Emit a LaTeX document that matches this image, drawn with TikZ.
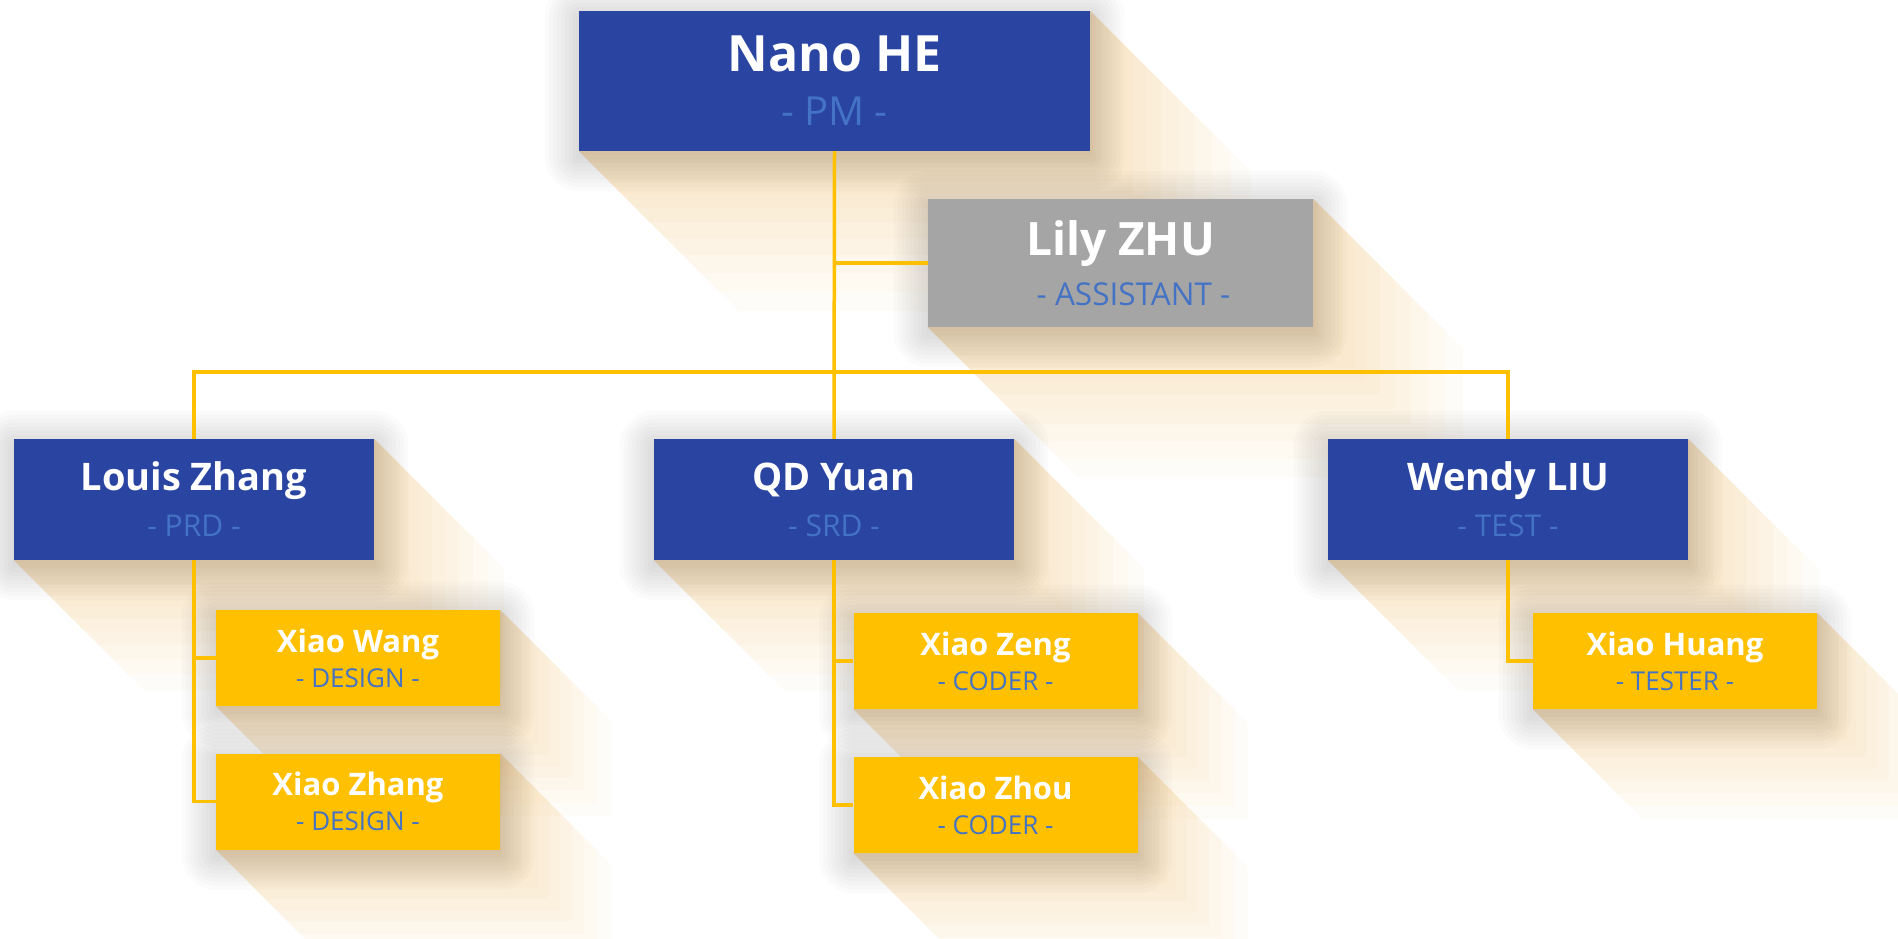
\documentclass[tikz,border=0pt]{standalone}
\usepackage{fontspec}
\setmainfont{Open Sans}
\usetikzlibrary{calc}

\definecolor{boxblue}{HTML}{2A44A1}
\definecolor{boxgray}{HTML}{A5A5A5}
\definecolor{boxyellow}{HTML}{FFC000}
\definecolor{rolecol}{HTML}{4472C4}
\definecolor{linkcol}{HTML}{FFC000}
\definecolor{shadowcol}{RGB}{238,182,92}

\pgfdeclarelayer{bg}
\pgfsetlayers{bg,main}

\newcommand{\who}[2]{#1\\{\mdseries\rolefont\color{rolecol}#2}}
\newcommand{\longshadow}[2]{%
  \foreach \k in {1,...,12}{
    \pgfmathsetmacro{\s}{#2*(\k/12)^1.5}
    \fill[shadowcol, opacity=0.045] (#1.south west) -- ++(\s,\s) -- ($(#1.south east)+(\s,\s)$)
      -- ($(#1.north east)+(\s,\s)$) -- (#1.north east) -- (#1.south east) -- cycle;}}
\newcommand{\glow}[1]{%
  \foreach \r in {2,6,...,34}
    \fill[black, opacity=0.014, rounded corners=\r pt]
      ($(#1.south west)+(-\r,\r+6)$) rectangle ($(#1.north east)+(\r,-\r+6)$);}

\begin{document}
\begin{tikzpicture}[x=1pt, y=-1pt,
  box/.style={rectangle, inner sep=0pt, align=center, text=white},
  head/.style={box, fill=boxblue, minimum width=511pt, minimum height=140pt,
    font=\bfseries\fontsize{50}{54}\selectfont, /utils/exec={\def\rolefont{\fontsize{40}{48}\selectfont}}},
  aide/.style={box, fill=boxgray, minimum width=385pt, minimum height=128pt,
    font=\bfseries\fontsize{46}{50}\selectfont, /utils/exec={\def\rolefont{\fontsize{31.5}{40}\selectfont}}},
  lead/.style={box, fill=boxblue, minimum width=360pt, minimum height=121pt,
    font=\bfseries\fontsize{38}{46}\selectfont, /utils/exec={\def\rolefont{\fontsize{30}{36}\selectfont}}},
  staff/.style={box, fill=boxyellow, minimum width=284pt, minimum height=96pt,
    font=\bfseries\fontsize{31}{35}\selectfont, /utils/exec={\def\rolefont{\fontsize{26}{30}\selectfont}}},
  link/.style={draw=linkcol, line width=3.5pt}]

\useasboundingbox (0,0) rectangle (1898,939);

\node[head] (nano) at (834.5,81) {\who{Nano HE}{- PM -}};
\node[aide] (lily) at (1120.5,263) {\who{Lily ZHU}{\kern26pt- ASSISTANT -}};

\node[lead] (louis) at (194,499.5) {\who{Louis Zhang}{- PRD -}};
\node[lead] (qd) at (834,499.5) {\who{QD Yuan}{- SRD -}};
\node[lead] (wendy) at (1508,499.5) {\who{Wendy LIU}{- TEST -}};

\node[staff] (xwang) at (358,658) {\who{Xiao Wang}{- DESIGN -}};
\node[staff] (xzhang) at (358,801.5) {\who{Xiao Zhang}{- DESIGN -}};
\node[staff] (xzeng) at (995.5,661) {\who{Xiao Zeng}{- CODER -}};
\node[staff] (xzhou) at (995.5,805) {\who{Xiao Zhou}{- CODER -}};
\node[staff] (xhuang) at (1675,661) {\who{Xiao Huang}{- TESTER -}};

\begin{pgfonlayer}{bg}
\foreach \n/\l in {nano/160, lily/150, louis/130, qd/130, wendy/130,
  xwang/110, xzhang/110, xzeng/110, xzhou/110, xhuang/110}
  {\longshadow{\n}{\l}}
\foreach \n in {nano, lily, louis, qd, wendy, xwang, xzhang, xzeng, xzhou, xhuang}
  {\glow{\n}}
\end{pgfonlayer}

\coordinate (bar) at (834,372);
\draw[link] (nano.south) -- (qd.north);
\draw[link] (nano.south |- lily.west) -- (lily.west);
\draw[link] (louis.north) |- (bar) -| (wendy.north);
\draw[link] (louis.south) |- (xzhang.west);
\draw[link] (louis.south |- xwang.west) -- (xwang.west);
\draw[link] (qd.south) |- (xzhou.west);
\draw[link] (qd.south |- xzeng.west) -- (xzeng.west);
\draw[link] (wendy.south) |- (xhuang.west);
\end{tikzpicture}
\end{document}
